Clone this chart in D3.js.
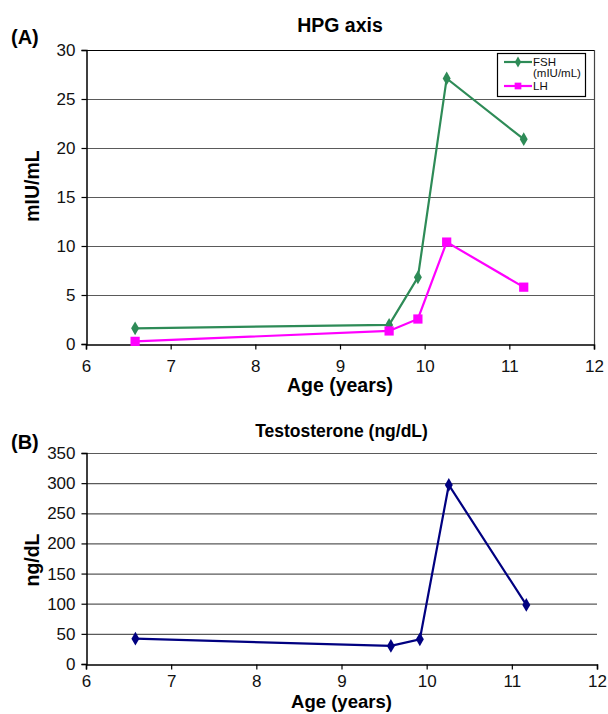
<!DOCTYPE html>
<html><head><meta charset="utf-8">
<script src="https://cdn.jsdelivr.net/npm/d3@7"></script>
<style>
body{margin:0;background:#fff;}
text{font-family:"Liberation Sans",Arial,sans-serif;}
</style></head>
<body><svg id="c" width="608" height="714"></svg>
<script>
const ages = [6.58, 9.58, 9.92, 10.26, 11.17];
const fsh = [1.6, 1.95, 6.8, 27.1, 20.9];
const lh = [0.27, 1.33, 2.55, 10.4, 5.8];
const testosterone = [42, 30, 41, 297, 98];
const xTicks = [6, 7, 8, 9, 10, 11, 12];
const yTicksA = [0, 5, 10, 15, 20, 25, 30];
const yTicksB = [0, 50, 100, 150, 200, 250, 300, 350];

const svg = d3.select("#c");

function panel(opt){
  const g = svg.append("g");
  const x = d3.scaleLinear().domain([6,12]).range([opt.l, opt.r]);
  const y = d3.scaleLinear().domain([0, opt.ymax]).range([opt.b, opt.t]);
  g.selectAll("line.grid").data(opt.yTicks.filter(d=>d>0)).enter().append("line")
    .attr("x1", opt.l).attr("x2", opt.r).attr("y1", d=>y(d)+0.5).attr("y2", d=>y(d)+0.5)
    .attr("stroke", d=> (opt.dark && d===opt.ymax) ? "#000" : "#5a5a5a").attr("stroke-width",1.2);
  if(opt.box){
    g.append("line").attr("x1",opt.r+0.5).attr("x2",opt.r+0.5).attr("y1",opt.t).attr("y2",opt.b).attr("stroke","#444").attr("stroke-width",1.2);
    g.append("line").attr("x1",opt.l).attr("x2",opt.r).attr("y1",opt.t+0.5).attr("y2",opt.t+0.5).attr("stroke","#000").attr("stroke-width",1.2);
  }
  const ax = g.append("g").attr("transform",`translate(0,${opt.b+0.5})`)
    .call(d3.axisBottom(x).tickValues(xTicks).tickSize(5).tickPadding(opt.xpad).tickFormat(d3.format("d")));
  const ay = g.append("g").attr("transform",`translate(${opt.l+0.5},0)`)
    .call(d3.axisLeft(y).tickValues(opt.yTicks).tickSize(5).tickPadding(6).tickFormat(d3.format("d")));
  [ax,ay].forEach(a=>{
    a.select(".domain").attr("stroke","#000").attr("stroke-width",1.5);
    a.selectAll(".tick line").attr("stroke","#000").attr("stroke-width",1.2);
    a.selectAll(".tick text").attr("font-size",17).attr("fill","#111")
      .style("font-family","'Liberation Sans',Arial,sans-serif");
  });
  ax.selectAll(".tick text").attr("dy", opt.xdy);
  svg.append("text").attr("x",(opt.l+opt.r)/2).attr("y",opt.titleY).attr("text-anchor","middle")
    .attr("font-size",opt.titleSize).attr("font-weight","bold").text(opt.title);
  svg.append("text").attr("x",11).attr("y",opt.labelY).attr("font-size",20).attr("font-weight","bold").text(opt.label);
  svg.append("text").attr("x",(opt.l+opt.r)/2).attr("y",opt.b+opt.xlabOff).attr("text-anchor","middle")
    .attr("font-size",opt.xlabSize).attr("font-weight","bold").text("Age (years)");
  svg.append("text").attr("transform",`translate(39,${opt.ylabY}) rotate(-90)`).attr("text-anchor","middle")
    .attr("font-size",19.5).attr("font-weight","bold").text(opt.ylabel);
  return {g,x,y};
}

function series(p, vals, color, shape, size){
  const pts = ages.map((a,i)=>[a, vals[i]]);
  p.g.append("path").datum(pts).attr("fill","none").attr("stroke",color).attr("stroke-width",2.2)
    .attr("d", d3.line().x(d=>p.x(d[0])).y(d=>p.y(d[1])));
  p.g.selectAll(null).data(pts).enter().append("path")
    .attr("transform", d=>`translate(${p.x(d[0])},${p.y(d[1])})`)
    .attr("d", d3.symbol().type(shape).size(size)).attr("fill",color);
}

const pA = panel({l:86, r:594, t:50, b:344, ymax:30, yTicks:yTicksA, box:true, dark:true,
  title:"HPG axis", titleSize:19.5, titleY:32, label:"(A)", labelY:44, ylabel:"mIU/mL", ylabY:186,
  xlabOff:48, xlabSize:19.5, xdy:"0.95em", xpad:6});
series(pA, fsh, "#2e8b57", d3.symbolDiamond, 55);
series(pA, lh, "#ff00ff", d3.symbolSquare, 85);

const lg = svg.append("g");
lg.append("rect").attr("x",497.5).attr("y",53.5).attr("width",88).attr("height",43).attr("fill","#fff").attr("stroke","#000").attr("stroke-width",1.2);
const legendItems = [{name:["FSH","(mIU/mL)"], color:"#2e8b57", shape:d3.symbolDiamond, size:35, y:62},
                     {name:["LH"], color:"#ff00ff", shape:d3.symbolSquare, size:45, y:86}];
legendItems.forEach(it=>{
  lg.append("line").attr("x1",504).attr("x2",532).attr("y1",it.y).attr("y2",it.y).attr("stroke",it.color).attr("stroke-width",2.2);
  lg.append("path").attr("transform",`translate(518,${it.y})`).attr("d",d3.symbol().type(it.shape).size(it.size)).attr("fill",it.color);
  it.name.forEach((t,j)=>lg.append("text").attr("x",533).attr("y",it.y+4+j*11).attr("font-size",11.5).attr("fill","#111").text(t));
});

const pB = panel({l:86, r:597, t:453, b:664, ymax:350, yTicks:yTicksB, box:false, dark:false,
  title:"Testosterone (ng/dL)", titleSize:17.5, titleY:437, label:"(B)", labelY:449, ylabel:"ng/dL", ylabY:560,
  xlabOff:44, xlabSize:18.5, xdy:"0.8em", xpad:4});
series(pB, testosterone, "#000080", d3.symbolDiamond, 55);
</script></body></html>
